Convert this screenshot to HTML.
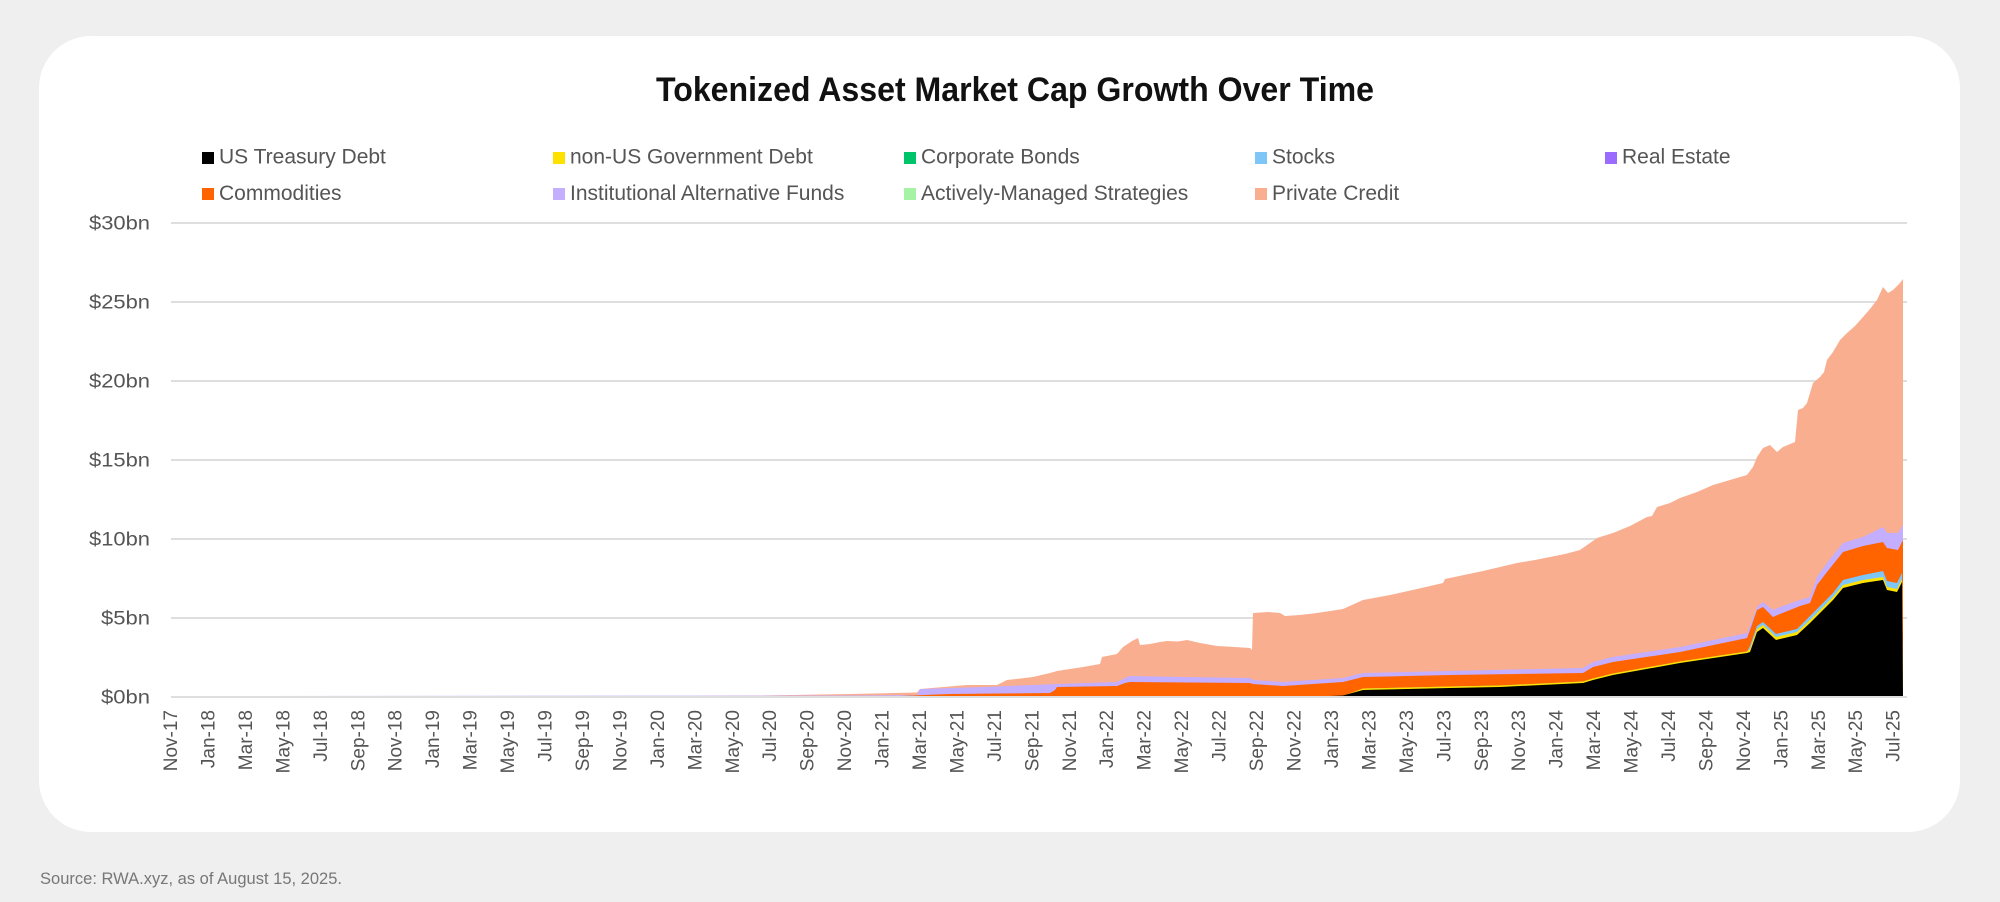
<!DOCTYPE html>
<html>
<head>
<meta charset="utf-8">
<style>
  html, body { margin: 0; padding: 0; background: #efefef; }
  svg { display: block; }
  text { font-family: "Liberation Sans", Arial, sans-serif; }
</style>
</head>
<body>
<svg width="2000" height="902" viewBox="0 0 2000 902" xmlns="http://www.w3.org/2000/svg">
  <rect x="0" y="0" width="2000" height="902" fill="#efefef"/>
  <rect x="39" y="36" width="1921" height="796" rx="52" ry="52" fill="#ffffff"/>

  <!-- Title -->
  <text x="1015" y="101" text-anchor="middle" font-size="34" font-weight="bold" fill="#111" textLength="718" lengthAdjust="spacingAndGlyphs">Tokenized Asset Market Cap Growth Over Time</text>

  <!-- Legend -->
  <g font-size="21" fill="#555">
    <rect x="202" y="152" width="12" height="12" fill="#000000"/>
    <text x="219" y="163.5">US Treasury Debt</text>
    <rect x="553" y="152" width="12" height="12" fill="#ffe100"/>
    <text x="570" y="163.5">non-US Government Debt</text>
    <rect x="904" y="152" width="12" height="12" fill="#00c46a"/>
    <text x="921" y="163.5">Corporate Bonds</text>
    <rect x="1255" y="152" width="12" height="12" fill="#7fc6f8"/>
    <text x="1272" y="163.5">Stocks</text>
    <rect x="1605" y="152" width="12" height="12" fill="#9b6bff"/>
    <text x="1622" y="163.5">Real Estate</text>

    <rect x="202" y="188" width="12" height="12" fill="#ff6400"/>
    <text x="219" y="200">Commodities</text>
    <rect x="553" y="188" width="12" height="12" fill="#c4aeff"/>
    <text x="570" y="200">Institutional Alternative Funds</text>
    <rect x="904" y="188" width="12" height="12" fill="#a6f3a6"/>
    <text x="921" y="200">Actively-Managed Strategies</text>
    <rect x="1255" y="188" width="12" height="12" fill="#faae90"/>
    <text x="1272" y="200">Private Credit</text>
  </g>

  <!-- Gridlines -->
  <g stroke="#dedede" stroke-width="2">
    <line x1="171" y1="223" x2="1907" y2="223"/>
    <line x1="171" y1="302" x2="1907" y2="302"/>
    <line x1="171" y1="381" x2="1907" y2="381"/>
    <line x1="171" y1="460" x2="1907" y2="460"/>
    <line x1="171" y1="539" x2="1907" y2="539"/>
    <line x1="171" y1="618" x2="1907" y2="618"/>
    <line x1="171" y1="697" x2="1907" y2="697"/>
  </g>

  <!-- Y labels -->
  <g font-size="19" fill="#555" text-anchor="end">
    <text x="150" y="229.5" textLength="61" lengthAdjust="spacingAndGlyphs">$30bn</text>
    <text x="150" y="308.5" textLength="61" lengthAdjust="spacingAndGlyphs">$25bn</text>
    <text x="150" y="387.5" textLength="61" lengthAdjust="spacingAndGlyphs">$20bn</text>
    <text x="150" y="466.5" textLength="61" lengthAdjust="spacingAndGlyphs">$15bn</text>
    <text x="150" y="545.5" textLength="61" lengthAdjust="spacingAndGlyphs">$10bn</text>
    <text x="150" y="624.5" textLength="49" lengthAdjust="spacingAndGlyphs">$5bn</text>
    <text x="150" y="703.5" textLength="49" lengthAdjust="spacingAndGlyphs">$0bn</text>
  </g>

  <!-- Data: painter's order, top cumulative first -->
  <!-- Private Credit (total top) -->
  <polygon fill="#faae90" points="171,696 690,696 760,695.5 850,694 917,692.5 920,689 967,685 997,685 1007,680 1033,677 1050,673 1057,671 1083,667 1100,664 1102,657 1117,654 1123,647 1132,641 1138,638 1140,645 1150,644 1160,642 1167,641 1178,641.5 1187,640 1200,643 1217,646 1235,647 1250,648 1252,650 1253,613 1268,612 1280,613 1285,616 1300,615 1317,613 1343,609 1363,600 1390,595 1417,589 1443,583 1445,579 1483,571 1500,567 1517,563 1535,560 1550,557 1565,554 1580,550 1590,543 1597,538 1613,533 1630,526 1647,517 1652,516 1657,507 1670,503 1680,498 1697,492 1713,485 1730,480 1747,475 1753,467 1757,457 1763,448 1770,445 1777,452 1783,447 1795,442 1798,410 1803,408 1807,403 1813,383 1820,377 1824,372 1827,360 1833,352 1840,340 1847,333 1855,326 1863,317 1870,309 1877,300 1883,287 1888,293 1893,290 1900,283 1903,279 1903,696"/>

  <!-- Institutional Alternative Funds -->
  <polygon fill="#c4aeff" points="171,696 850,695.5 917,695 920,689 983,687 1057,684 1117,682 1125,678 1130,676 1183,677 1250,678 1253,680 1283,682 1343,678 1363,673 1450,671 1583,668 1593,662 1613,657 1680,647 1747,633 1750,625 1757,607 1763,602 1773,610 1780,607 1800,600 1810,597 1817,577 1827,563 1843,543 1863,537 1883,527 1887,533 1898,533 1903,525 1903,696"/>

  <!-- Commodities -->
  <polygon fill="#ff6400" points="171,696 900,696 950,694 1000,693.5 1050,693 1055,690 1057,687 1117,686 1125,683 1130,682 1250,683 1253,684 1283,686 1343,682 1363,677 1450,675 1583,673 1593,667 1613,662 1680,652 1747,638 1750,630 1757,610 1763,607 1773,617 1780,614 1800,606 1810,603 1817,585 1827,572 1843,552 1863,546 1883,542 1887,548 1898,550 1903,540 1903,696"/>

  <!-- Stocks -->
  <polygon fill="#7fc6f8" points="171,696 1343,696 1363,688.5 1450,686.5 1500,685.5 1583,681.5 1593,678.5 1613,673.5 1680,661.5 1747,651.5 1750,646 1757,626 1763,622 1776,634 1797,629 1810,616 1820,606 1833,593 1843,580 1863,575 1883,571 1887,581 1897,583 1902,573 1903,696"/>

  <!-- non-US Government Debt -->
  <polygon fill="#ffe100" points="171,696 1343,696 1363,688.5 1450,686.5 1500,685.5 1583,681.5 1593,678.5 1613,673.5 1680,661.5 1747,651.5 1750,649 1757,629 1763,625 1776,637 1797,632 1810,620 1820,610 1833,597 1843,585 1863,580 1883,577 1887,587 1897,589 1902,579 1903,696"/>

  <!-- US Treasury Debt -->
  <polygon fill="#000000" points="171,696 1330,696 1343,695.5 1363,690 1450,688 1500,687 1583,683 1593,680 1613,675 1680,663 1747,653 1750,652 1757,632 1763,628 1776,640 1797,635 1810,623 1820,613 1833,600 1843,588 1863,583 1883,580 1887,590 1897,592 1902,582 1903,696"/>

  <!-- X labels -->
  <g font-size="19" fill="#555" text-anchor="end">
    <text transform="translate(177,710) rotate(-90)">Nov-17</text>
    <text transform="translate(214.5,710) rotate(-90)">Jan-18</text>
    <text transform="translate(252,710) rotate(-90)">Mar-18</text>
    <text transform="translate(289.5,710) rotate(-90)">May-18</text>
    <text transform="translate(327,710) rotate(-90)">Jul-18</text>
    <text transform="translate(364.5,710) rotate(-90)">Sep-18</text>
    <text transform="translate(401.5,710) rotate(-90)">Nov-18</text>
    <text transform="translate(439,710) rotate(-90)">Jan-19</text>
    <text transform="translate(476.5,710) rotate(-90)">Mar-19</text>
    <text transform="translate(514,710) rotate(-90)">May-19</text>
    <text transform="translate(551.5,710) rotate(-90)">Jul-19</text>
    <text transform="translate(589,710) rotate(-90)">Sep-19</text>
    <text transform="translate(626.5,710) rotate(-90)">Nov-19</text>
    <text transform="translate(664,710) rotate(-90)">Jan-20</text>
    <text transform="translate(701.5,710) rotate(-90)">Mar-20</text>
    <text transform="translate(739,710) rotate(-90)">May-20</text>
    <text transform="translate(776,710) rotate(-90)">Jul-20</text>
    <text transform="translate(813.5,710) rotate(-90)">Sep-20</text>
    <text transform="translate(851,710) rotate(-90)">Nov-20</text>
    <text transform="translate(888.5,710) rotate(-90)">Jan-21</text>
    <text transform="translate(926,710) rotate(-90)">Mar-21</text>
    <text transform="translate(963.5,710) rotate(-90)">May-21</text>
    <text transform="translate(1001,710) rotate(-90)">Jul-21</text>
    <text transform="translate(1038.5,710) rotate(-90)">Sep-21</text>
    <text transform="translate(1076,710) rotate(-90)">Nov-21</text>
    <text transform="translate(1113,710) rotate(-90)">Jan-22</text>
    <text transform="translate(1150.5,710) rotate(-90)">Mar-22</text>
    <text transform="translate(1188,710) rotate(-90)">May-22</text>
    <text transform="translate(1225.5,710) rotate(-90)">Jul-22</text>
    <text transform="translate(1263,710) rotate(-90)">Sep-22</text>
    <text transform="translate(1300.5,710) rotate(-90)">Nov-22</text>
    <text transform="translate(1338,710) rotate(-90)">Jan-23</text>
    <text transform="translate(1375.5,710) rotate(-90)">Mar-23</text>
    <text transform="translate(1413,710) rotate(-90)">May-23</text>
    <text transform="translate(1450.5,710) rotate(-90)">Jul-23</text>
    <text transform="translate(1488,710) rotate(-90)">Sep-23</text>
    <text transform="translate(1525,710) rotate(-90)">Nov-23</text>
    <text transform="translate(1562.5,710) rotate(-90)">Jan-24</text>
    <text transform="translate(1600,710) rotate(-90)">Mar-24</text>
    <text transform="translate(1637.5,710) rotate(-90)">May-24</text>
    <text transform="translate(1675,710) rotate(-90)">Jul-24</text>
    <text transform="translate(1712.5,710) rotate(-90)">Sep-24</text>
    <text transform="translate(1750,710) rotate(-90)">Nov-24</text>
    <text transform="translate(1787.5,710) rotate(-90)">Jan-25</text>
    <text transform="translate(1825,710) rotate(-90)">Mar-25</text>
    <text transform="translate(1862,710) rotate(-90)">May-25</text>
    <text transform="translate(1899.5,710) rotate(-90)">Jul-25</text>
  </g>

  <!-- Source -->
  <text x="40" y="884" font-size="17" fill="#777" textLength="302" lengthAdjust="spacingAndGlyphs">Source: RWA.xyz, as of August 15, 2025.</text>
</svg>
</body>
</html>
